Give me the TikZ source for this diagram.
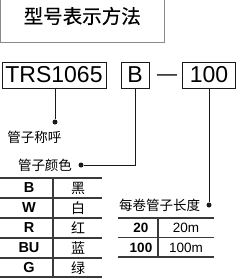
\documentclass[tikz,border=0pt]{standalone}
\usepackage{fontspec}
\setmainfont{Liberation Sans}
\newfontfamily\cjk{Noto Sans CJK SC}
\newfontfamily\cjkhead[FakeBold=0.4]{Noto Sans CJK SC}
\usetikzlibrary{positioning}
\definecolor{ink}{HTML}{1A1A1A}
\definecolor{rulegray}{HTML}{3A3A3A}
\definecolor{framegray}{HTML}{8A8A8A}

\begin{document}
\begin{tikzpicture}[x=1pt,y=-1pt,
  codebox/.style={draw=ink,line width=0.8pt,inner sep=0pt,minimum height=26pt,font=\fontsize{23}{23}\selectfont},
  dotmark/.style={circle,fill=ink,inner sep=0pt,minimum size=5pt},
  cnlabel/.style={inner sep=0pt,font=\cjk\fontsize{13.5}{14}\selectfont},
  lead/.style={draw=ink,line width=0.8pt},
  rule/.style={draw=rulegray,line width=1.1pt},
  cellcode/.style={inner sep=0pt,font=\bfseries\fontsize{14.5}{15}\selectfont},
  cellcn/.style={inner sep=0pt,font=\cjk\fontsize{14}{15}\selectfont},
  cellnum/.style={inner sep=0pt,font=\fontsize{13.5}{14}\selectfont}]
  \clip (0,0) rectangle (245,279);
  % title
  \node[draw=framegray,line width=1pt,minimum width=163.5pt,minimum height=52pt,inner sep=0pt,
        font=\cjkhead\fontsize{19.5}{20}\selectfont] (title) at (82.25,16) {型号表示方法};
  % code parts
  \node[codebox,minimum width=104pt] (trs) at (54,75) {TRS1065};
  \node[codebox,minimum width=28pt] (clr) at (135,75) {B};
  \node[inner sep=0pt,font=\fontsize{20}{20}\selectfont] (dash) at (167,78) {—};
  \node[codebox,minimum width=53pt] (len) at (209,75) {100};
  % leads and labels
  \node[dotmark] (dname) at (55,122) {};
  \node[cnlabel] (lname) at (34.5,137) {管子称呼};
  \node[dotmark] (dclr) at (81,165) {};
  \node[cnlabel] (lclr) at (45,165) {管子颜色};
  \node[dotmark] (dlen) at (209,205) {};
  \node[cnlabel] (llen) at (159.5,205) {每卷管子长度};
  \draw[lead] (trs.south -| dname) -- (dname);
  \draw[lead] (clr.south) |- (dclr);
  \draw[lead] (len.south -| dlen) -- (dlen);
  % colour table
  \foreach \y in {178,198,218,238,258,277}
    \draw[rule] (0,\y) -- (102,\y);
  \draw[rule] (53,178) -- (53,277);
  \foreach \c/\n [count=\i] in {B/黑,W/白,R/红,BU/蓝,G/绿} {
    \node[cellcode] (code\i) at (29,{168+20*\i}) {\c};
    \node[cellcn] (cn\i) at (78,{168+20*\i}) {\n};
  }
  % length table
  \foreach \y in {218,237.5,257}
    \draw[rule] (118,\y) -- (214,\y);
  \draw[rule] (158,218) -- (158,257);
  \node[cellnum,font=\bfseries\fontsize{13.5}{14}\selectfont] (n20) at (141,228) {20};
  \node[cellnum] (m20) at (186,228) {20m};
  \node[cellnum,font=\bfseries\fontsize{13.5}{14}\selectfont] (n100) at (141,247.5) {100};
  \node[cellnum] (m100) at (186,247.5) {100m};
\end{tikzpicture}
\end{document}
